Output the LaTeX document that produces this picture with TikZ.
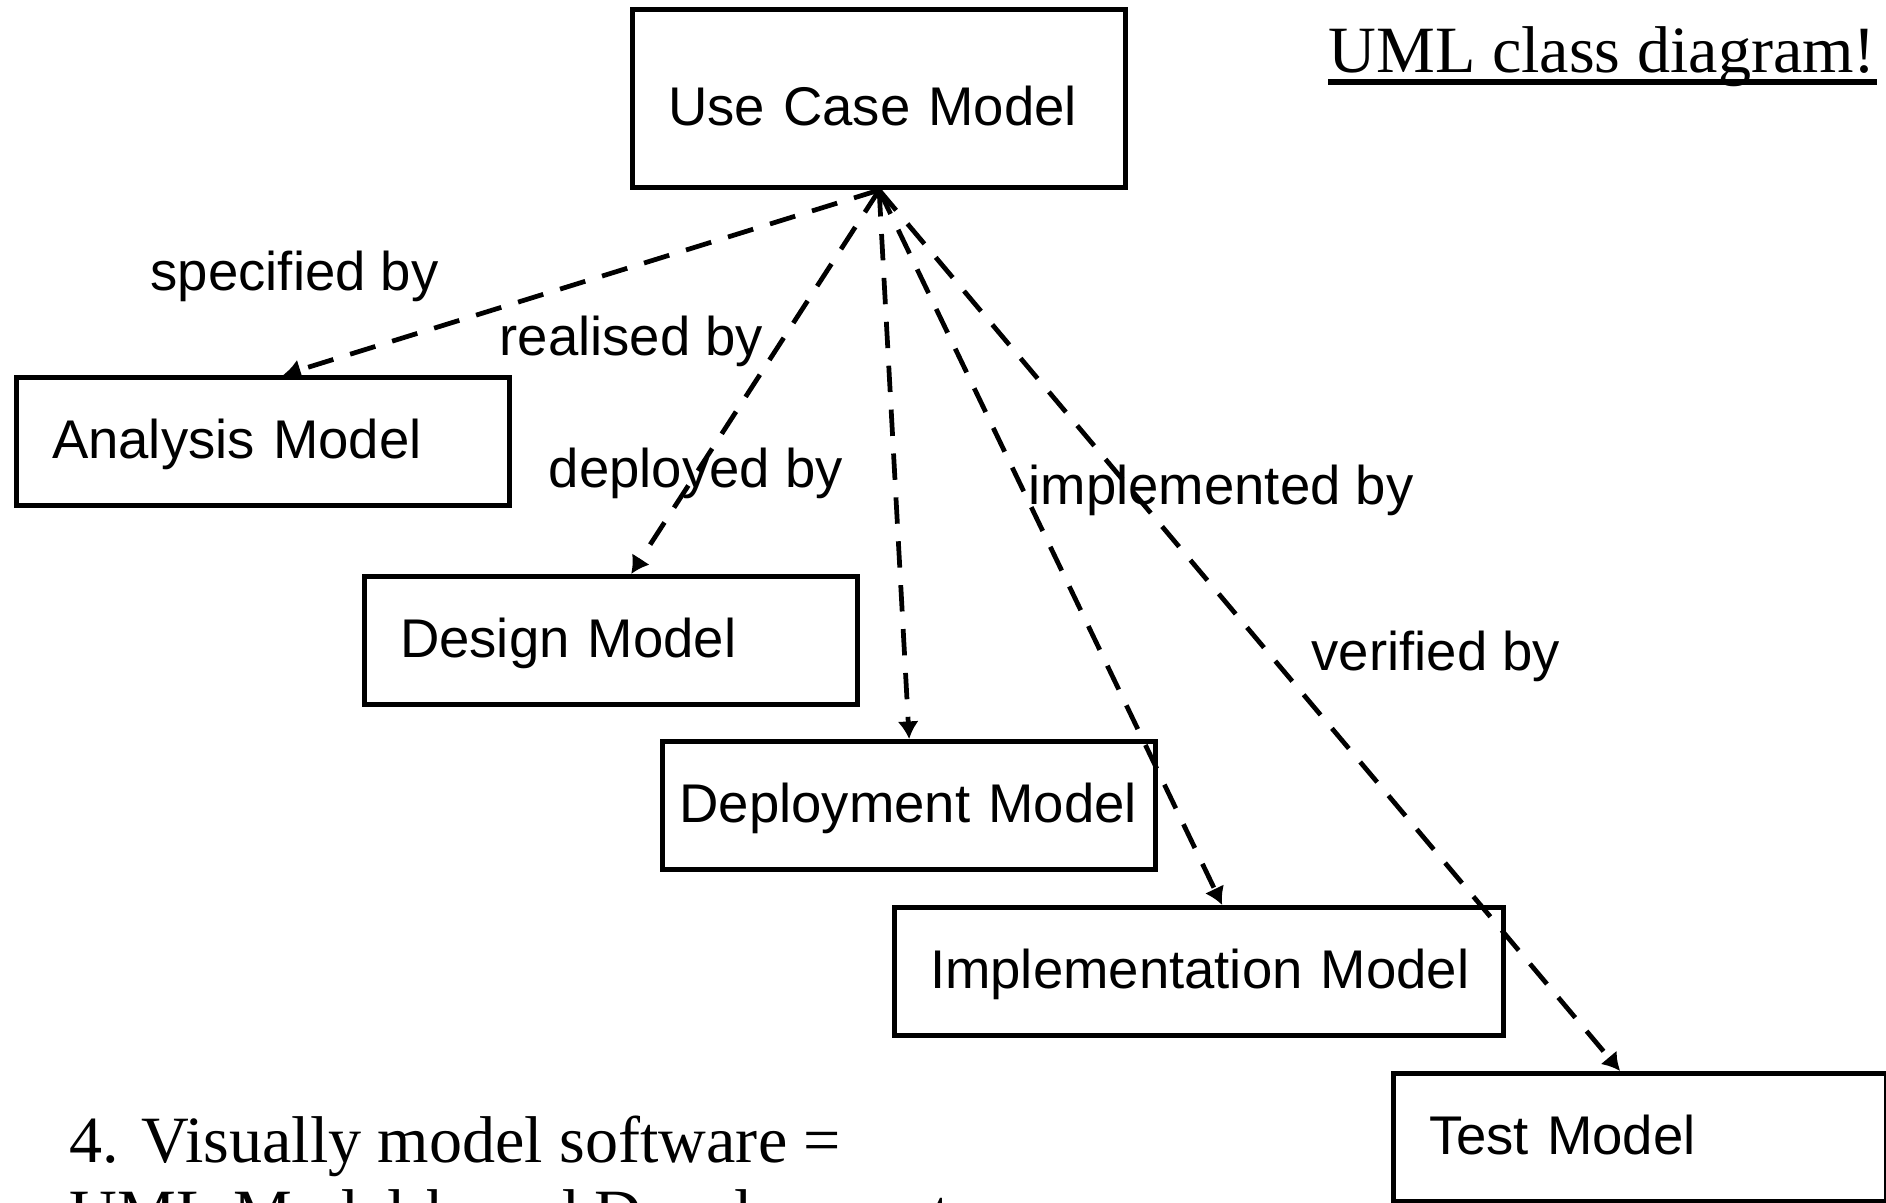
\documentclass[tikz,border=0pt]{standalone}
\usepackage{fontspec}
\setmainfont{Liberation Serif}
\newfontfamily\modelfont{Liberation Sans}
\usetikzlibrary{arrows.meta, positioning}
\tikzset{model/.style={draw, line width=1.42pt, anchor=north west, minimum width=4.93cm, minimum height=1.28cm, inner xsep=0.355cm, inner ysep=0pt, text width=4.22cm, align=left, text height=0.45cm, text depth=0.11cm, font=\modelfont\fontsize{15.5}{18}\selectfont},
  rel/.style={draw, line width=1.35pt, dash pattern=on 7.5pt off 5pt, -{Latex[length=5pt,width=6pt]}},
  tag/.style={anchor=base west, inner sep=0pt, font=\modelfont\fontsize{15.5}{18}\selectfont},
  slide/.style={anchor=base west, inner sep=0pt, font=\fontsize{18.8}{22}\selectfont}}

\begin{document}
\begin{tikzpicture}[x=0.01cm, y=-0.01cm]
            \useasboundingbox (0,0) rectangle (1886,1202);
            \clip (0,0) rectangle (1886,1202);

            \node[model, minimum height=1.78cm, text height=0.64cm] (uc) at (630,7) {Use Case Model};
            \node[model] (ana) at (14,375) {Analysis Model};
            \node[model] (des) at (362,574) {Design Model};
            \node[model, inner xsep=0.17cm, text width=4.59cm] (dep) at (660,739) {\mbox{Deployment Model}};
            \node[model, text width=5.38cm] (imp) at (892,905) {\mbox{Implementation Model}};
            \node[model] (tst) at (1391,1071) {Test Model};

            \draw[rel] (uc.south) -- ([xshift=0.2cm]ana.north);
            \draw[rel] (uc.south) -- ([xshift=0.2cm]des.north);
            \draw[rel] (uc.south) -- (dep.north);
            \draw[rel] (uc.south) -- ([xshift=0.23cm]imp.north);
            \draw[rel] (uc.south) -- ([xshift=-0.2cm]tst.north);

            \node[tag] (specified) at (150,290) {specified by};
            \node[tag] (realised) at (499,355) {realised by};
            \node[tag] (deployed) at (548,487) {deployed by};
            \node[tag] (implemented) at (1028,504) {implemented by};
            \node[tag] (verified) at (1311,670) {verified by};

            \node[slide] (title) at (1328,72) {UML class diagram!};
            \draw[line width=1.7pt] ([yshift=-0.1cm]title.base west) -- ([yshift=-0.1cm]title.base east);

            \node[slide] (motto) at (69,1162) {4. Visually model software =};
            \node[slide] (mottob) at (69,1235) {UML Model-based Development};
        \end{tikzpicture}
\end{document}
